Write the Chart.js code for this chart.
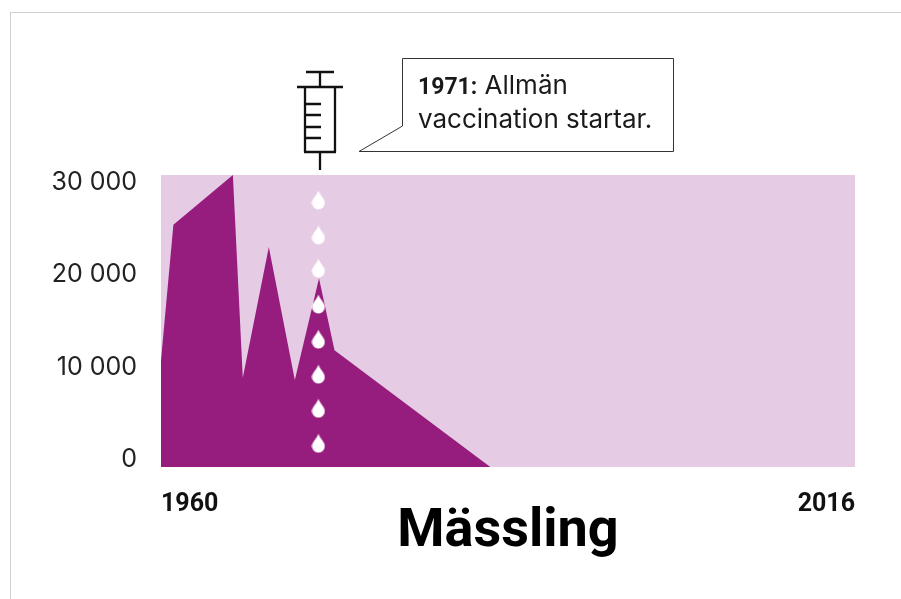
<!DOCTYPE html>
<html>
<head>
<meta charset="utf-8">
<title>Mässling</title>
<script src="https://cdn.jsdelivr.net/npm/chart.js@4"></script>
<style>
  html, body { margin: 0; padding: 0; background: #fff; overflow: hidden; }
  #wrap { position: absolute; left: 0; top: 0; width: 901px; height: 599px; }
  #frame { position: absolute; left: 10px; top: 12px; right: 0; bottom: 0; border-left: 1.5px solid #cfcfcf; border-top: 1.5px solid #cfcfcf; }
  canvas { position: absolute; left: 0; top: 0; }
</style>
</head>
<body>
<div id="wrap">
  <div id="frame"></div>
  <canvas id="chart" width="901" height="599"></canvas>
</div>
<script>
const years = [1960, 1961, 1965.8, 1966.6, 1968.7, 1970.8, 1972.75, 1974, 1986.6, 2016];
const cases = [11600, 26300, 31700, 9700, 23900, 9450, 20500, 12700, 0, 0];
const backgroundYears = [1960, 2016];
const backgroundCases = [31700, 31700];
const dropYear = 1972.7;
const dropValues = [29000, 25200, 21600, 17700, 13900, 10100, 6400, 2600];
const yTicks = [0, 10000, 20000, 30000];
const xTicks = [1960, 2016];
const titleText = "Mässling";
const calloutBold = "1971:";
const calloutRest = " Allmän";
const calloutLine2 = "vaccination startar.";

const FONT = "Roboto, sans-serif";
const TEXT_FONT = "Inter, sans-serif";

function pairs(xs, ys) {
  return xs.map((x, i) => ({ x: x, y: ys[i] }));
}

// white teardrop used as point style
function makeDrop() {
  const c = document.createElement("canvas");
  c.width = 14;
  c.height = 20;
  const g = c.getContext("2d");
  g.fillStyle = "#fff";
  g.beginPath();
  g.moveTo(7, 0.5);
  g.bezierCurveTo(9, 6, 13.5, 9, 13.5, 13);
  g.arc(7, 13, 6.5, 0, Math.PI);
  g.bezierCurveTo(0.5, 9, 5, 6, 7, 0.5);
  g.fill();
  return c;
}

// syringe and speech box above the plot
const decorations = {
  id: "decorations",
  afterDraw(chart) {
    const ctx = chart.ctx;
    ctx.save();
    ctx.strokeStyle = "#111";
    ctx.lineWidth = 2.3;
    ctx.beginPath();
    [[306, 72, 334, 72], [320, 72, 320, 87], [297, 87, 343, 87], [305, 87, 305, 152],
     [335, 87, 335, 152], [304, 152, 336, 152], [320, 152, 320, 170],
     [306, 104, 321, 104], [306, 115, 321, 115], [306, 127, 321, 127], [306, 138, 321, 138]
    ].forEach((s) => {
      ctx.moveTo(s[0], s[1]);
      ctx.lineTo(s[2], s[3]);
    });
    ctx.stroke();

    ctx.strokeStyle = "#333";
    ctx.lineWidth = 1;
    ctx.beginPath();
    ctx.moveTo(402.5, 126);
    ctx.lineTo(402.5, 58.5);
    ctx.lineTo(673.5, 58.5);
    ctx.lineTo(673.5, 151.5);
    ctx.lineTo(359, 151.5);
    ctx.closePath();
    ctx.stroke();

    ctx.fillStyle = "#1a1a1a";
    ctx.textBaseline = "alphabetic";
    ctx.font = "700 23px " + FONT;
    ctx.fillText(calloutBold, 418, 94);
    const w = ctx.measureText(calloutBold).width;
    ctx.font = "400 26px " + TEXT_FONT;
    ctx.fillText(calloutRest, 418 + w, 94);
    ctx.fillText(calloutLine2, 418, 128);
    ctx.restore();
  }
};

new Chart(document.getElementById("chart"), {
  type: "line",
  data: {
    datasets: [
      {
        type: "scatter",
        data: pairs(dropValues.map(() => dropYear), dropValues),
        pointStyle: makeDrop(),
        pointRadius: 8,
        order: 0
      },
      {
        data: pairs(years, cases),
        parsing: false,
        fill: "origin",
        backgroundColor: "#961c7e",
        borderWidth: 0,
        pointRadius: 0,
        tension: 0,
        order: 1
      },
      {
        data: pairs(backgroundYears, backgroundCases),
        fill: "origin",
        backgroundColor: "#e5cbe4",
        borderWidth: 0,
        pointRadius: 0,
        order: 2
      }
    ]
  },
  plugins: [decorations],
  options: {
    responsive: false,
    animation: false,
    layout: { padding: { top: 175, right: 46, left: 0, bottom: 0 } },
    plugins: {
      legend: { display: false },
      tooltip: { enabled: false },
      title: {
        display: true,
        text: titleText,
        position: "bottom",
        fullSize: false,
        color: "#000",
        font: { family: FONT, size: 54, weight: "700" },
        padding: { top: -29, bottom: 34 }
      }
    },
    scales: {
      x: {
        type: "linear",
        min: 1960,
        max: 2016,
        afterBuildTicks(axis) { axis.ticks = xTicks.map((v) => ({ value: v })); },
        afterFit(axis) { axis.height = 62; },
        grid: { display: false },
        border: { display: false },
        ticks: {
          color: "#111",
          font: { family: FONT, size: 25, weight: "700" },
          padding: 15,
          align: "inner",
          maxRotation: 0,
          callback: (v) => String(v)
        }
      },
      y: {
        min: 0,
        max: 31700,
        afterBuildTicks(axis) { axis.ticks = yTicks.map((v) => ({ value: v })); },
        afterFit(axis) { axis.width = 161; },
        grid: { display: false },
        border: { display: false },
        ticks: {
          color: "#222",
          font: { family: TEXT_FONT, size: 25 },
          padding: 16,
          labelOffset: -8,
          callback: (v) => String(v).replace(/\B(?=(\d{3})+$)/g, " ")
        }
      }
    }
  }
});
</script>
</body>
</html>
